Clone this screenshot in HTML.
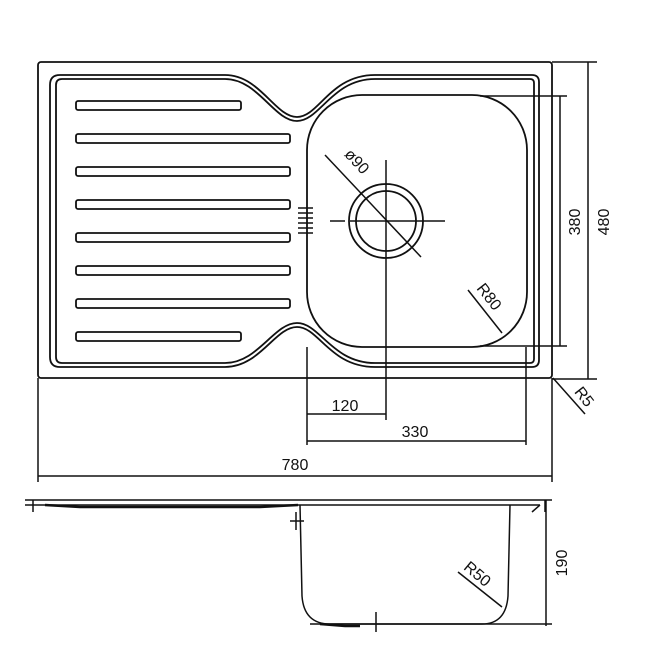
<!DOCTYPE html>
<html><head><style>body{margin:0;background:#fff}svg{display:block}</style></head><body>
<svg width="650" height="650" viewBox="0 0 650 650" xmlns="http://www.w3.org/2000/svg" font-family="Liberation Sans, DejaVu Sans, sans-serif">
<g fill="none" stroke="#111" stroke-width="1.8">
<rect x="38" y="62" width="514" height="316" rx="3"/>
<path d="M60,75 H225 C260,75 275,117 297,117 C319,117 330,75 375,75 H532 Q539,75 539,82 V360 Q539,367 532,367 H375 C330,367 319,327 297,327 C275,327 260,367 225,367 H60 Q50,367 50,357 V85 Q50,75 60,75 Z"/>
<path d="M62,79 H225 C258,79 274,121 297,121 C320,121 332,79 375,79 H530 Q534,79 534,83 V359 Q534,363 530,363 H375 C332,363 320,323 297,323 C274,323 258,363 225,363 H62 Q56,363 56,357 V85 Q56,79 62,79 Z"/>
<rect x="307" y="95" width="220" height="252" rx="55"/>
<rect x="76" y="101" width="165" height="9" rx="2"/>
<rect x="76" y="134" width="214" height="9" rx="2"/>
<rect x="76" y="167" width="214" height="9" rx="2"/>
<rect x="76" y="200" width="214" height="9" rx="2"/>
<rect x="76" y="233" width="214" height="9" rx="2"/>
<rect x="76" y="266" width="214" height="9" rx="2"/>
<rect x="76" y="299" width="214" height="9" rx="2"/>
<rect x="76" y="332" width="165" height="9" rx="2"/>
<circle cx="386" cy="221" r="37"/>
<circle cx="386" cy="221" r="30"/>
</g>
<g stroke="#111" stroke-width="1.5" fill="none">
<path d="M298,208H313M298,213H313M298,218H313M298,223H313M298,228H313M298,233H313"/>
<path d="M386,160V420M330,221H345M350,221H445"/>
<path d="M325,155L421,257"/>
<path d="M468,290L502,333"/>
<path d="M307,347V445M526,347V445"/>
<path d="M307,414H386M307,441H526"/>
<path d="M38,378V482M552,378V482M38,476H552"/>
<path d="M480,96H567M480,346H567M560,96V346"/>
<path d="M552,62H597M552,379H597M588,62V379"/>
<path d="M553,378L585,414"/>
<path d="M25,500H552M45,505H540M25,505H45"/>
<path d="M33,500V512M545,500V512M540,505L532,512"/>
<path d="M45,505L80,507H260L298,505" stroke-width="2.4"/>
<path d="M300,505L302,596Q304,624 330,624H482Q506,624 508,596L510,505"/>
<path d="M310,624H552M546,500V626"/>
<path d="M290,521H304M296,512V530M376,612V632"/>
<path d="M320,624L345,626H360" stroke-width="2.4"/>
<path d="M458,572L502,607"/>
</g>
<g fill="#111" font-size="16">
<text x="345" y="411" text-anchor="middle">120</text>
<text x="415" y="437" text-anchor="middle">330</text>
<text x="295" y="470" text-anchor="middle">780</text>
<text transform="translate(580,222) rotate(-90)" text-anchor="middle">380</text>
<text transform="translate(609,222) rotate(-90)" text-anchor="middle">480</text>
<text transform="translate(353,165) rotate(47)" text-anchor="middle">ø90</text>
<text transform="translate(485,300) rotate(52)" text-anchor="middle">R80</text>
<text transform="translate(580,400) rotate(52)" text-anchor="middle">R5</text>
<text transform="translate(474,578) rotate(40)" text-anchor="middle">R50</text>
<text transform="translate(567,563) rotate(-90)" text-anchor="middle">190</text>
</g>
</svg>
</body></html>
